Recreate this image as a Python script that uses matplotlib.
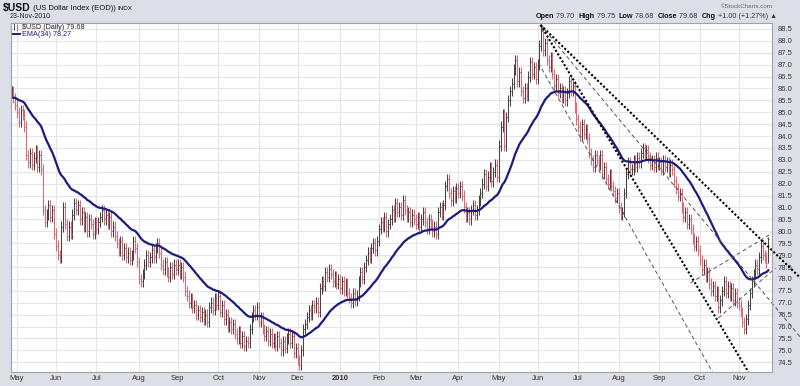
import numpy as np
import pandas as pd
import matplotlib
matplotlib.use("Agg")
import matplotlib.pyplot as plt

plt.rcParams["font.family"] = ["Liberation Sans", "DejaVu Sans"]

# daily closes, $USD, 28-Apr-2009 .. 23-Nov-2010 (one per weekday)
start_date = "2009-04-28"
end_date = "2010-11-23"

closes = [
    # Apr 2009
    85.9, 85.6, 85.3,
    # May
    85.0, 84.6, 85.1, 84.9, 84.4, 83.2, 82.9, 83.3, 82.8, 83.1, 83.4, 82.7,
    83.2, 82.6, 80.9, 80.4, 80.7, 81.1, 80.6, 80.9, 79.9,
    # Jun
    79.4, 79.0, 78.9, 80.2, 81.0, 80.3, 79.8, 80.2, 79.9, 80.7, 81.2, 80.9,
    81.1, 80.5, 80.8, 80.2, 80.6, 80.0, 80.5, 80.3, 79.9, 80.4,
    # Jul
    80.1, 80.4, 80.6, 80.9, 80.5, 80.7, 80.3, 80.6, 80.0, 80.2, 79.8, 79.5,
    79.2, 79.6, 79.0, 79.3, 78.9, 79.1, 78.8, 79.0, 79.6, 79.3, 78.7,
    # Aug
    78.0, 77.9, 78.2, 78.6, 79.0, 78.7, 78.9, 79.2, 78.9, 79.3, 79.5, 79.1,
    78.6, 78.4, 78.7, 78.3, 78.1, 78.5, 78.2, 78.6, 78.4,
    # Sep
    78.6, 78.2, 78.5, 78.1, 77.5, 77.3, 77.0, 77.2, 76.8, 76.9, 76.5, 76.7,
    76.4, 76.6, 76.3, 76.5, 76.2, 76.8, 77.0, 76.7, 77.2, 76.9,
    # Oct
    77.3, 76.6, 76.9, 76.3, 76.5, 76.0, 76.2, 75.9, 76.1, 75.7, 75.5, 75.8,
    75.3, 75.6, 75.2, 75.4, 75.3, 75.9, 76.4, 76.7, 76.5, 76.8,
    # Nov
    76.2, 76.4, 75.9, 75.6, 75.8, 75.4, 75.7, 75.3, 75.5, 75.2, 75.6, 75.3,
    75.0, 75.4, 75.1, 75.5, 75.7, 75.3, 75.6, 74.9, 75.1,
    # Dec
    74.6, 74.4, 75.0, 75.9, 76.1, 76.4, 76.7, 76.5, 76.9, 76.8, 77.0, 76.6,
    77.6, 77.9, 77.7, 78.3, 78.1, 78.4, 78.2, 77.9, 78.1, 77.8, 78.0,
    # Jan 2010
    77.6, 77.9, 77.5, 77.8, 77.4, 77.2, 77.0, 77.4, 77.1, 77.3, 77.9, 78.3,
    78.0, 78.5, 78.8, 79.1, 78.9, 79.3, 79.5, 79.2, 79.6,
    # Feb
    80.1, 80.4, 80.2, 80.6, 80.0, 80.3, 80.5, 80.9, 80.6, 81.2, 80.8, 81.0,
    80.7, 81.3, 80.9, 80.6, 80.8, 80.4, 80.7, 80.5,
    # Mar
    80.3, 80.6, 80.2, 80.5, 80.8, 80.4, 80.1, 80.5, 80.3, 80.0, 80.2, 79.9,
    80.8, 81.0, 80.7, 81.1, 81.9, 82.2, 81.6, 81.3, 81.7, 81.4, 81.8,
    # Apr
    81.6, 81.9, 81.5, 81.0, 80.6, 80.8, 80.5, 80.9, 81.1, 80.7, 80.9, 81.3,
    81.6, 82.0, 82.4, 81.9, 82.3, 82.7, 82.1, 82.5, 82.8, 82.3,
    # May
    83.6, 84.4, 84.9, 83.6, 84.8, 85.5, 85.9, 86.2, 86.8, 87.2, 86.3, 86.7,
    85.9, 85.6, 86.0, 85.7, 86.5, 87.1, 86.6, 86.9, 86.4,
    # Jun
    87.0, 87.8, 88.4, 87.6, 87.9, 87.2, 86.9, 87.3, 86.6, 86.1, 86.4, 85.8,
    86.0, 85.6, 85.9, 85.5, 85.8, 86.3, 85.9, 86.1, 85.2, 84.7,
    # Jul
    84.4, 84.0, 84.5, 84.1, 84.3, 83.9, 83.3, 83.0, 82.7, 83.2, 83.0, 82.8,
    83.2, 82.4, 82.7, 82.2, 82.0, 82.4, 81.9, 81.7, 81.4, 81.6,
    # Aug
    81.0, 80.7, 80.8, 81.6, 82.4, 82.9, 82.6, 82.6, 83.0, 82.7, 83.1, 82.9,
    83.3, 83.5, 83.2, 83.4, 83.1, 82.8, 83.0, 82.7, 83.1, 82.8,
    # Sep
    82.9, 82.6, 83.0, 82.7, 82.9, 82.5, 82.8, 82.6, 82.1, 81.8, 81.5, 81.6,
    81.0, 80.6, 80.8, 80.3, 80.5, 80.1, 79.7, 79.4, 79.6, 79.2,
    # Oct
    78.8, 78.4, 78.6, 78.1, 78.3, 77.8, 77.5, 77.7, 77.3, 77.5, 76.8, 77.1,
    77.5, 77.9, 77.4, 77.7, 77.3, 77.6, 77.1, 77.4, 77.0,
    # Nov
    76.9, 76.6, 76.2, 75.9, 76.3, 76.9, 77.4, 77.9, 78.2, 78.6, 78.4, 78.9,
    79.4, 79.0, 78.9, 78.68, 79.68,
]

last_open = 79.70
last_high = 79.75
last_low = 78.68
wick = 0.22

ema_span = 34
ema_seed = 85.6

# hand drawn trendlines: (bar number, price) start and end
trend_x0 = [286.6, 286.6, 286.6, 285.5, 367.8, 383.0]
trend_y0 = [88.67, 88.67, 88.67, 87.07, 77.83, 76.36]
trend_x1 = [427.4, 427.4, 399.2, 379.7, 412.2, 413.9]
trend_y1 = [78.04, 75.55, 74.09, 74.09, 79.93, 78.46]
trend_bold = [True, False, True, False, False, False]

price_ticks = [74.5, 75.0, 75.5, 76.0, 76.5, 77.0, 77.5, 78.0, 78.5, 79.0,
               79.5, 80.0, 80.5, 81.0, 81.5, 82.0, 82.5, 83.0, 83.5, 84.0,
               84.5, 85.0, 85.5, 86.0, 86.5, 87.0, 87.5, 88.0, 88.5]
month_labels = ["May", "Jun", "Jul", "Aug", "Sep", "Oct", "Nov", "Dec", "2010",
                "Feb", "Mar", "Apr", "May", "Jun", "Jul", "Aug", "Sep", "Oct",
                "Nov"]

title_parts = [("$USD", 7.5, "bold"), (" (US Dollar Index (EOD)) ", 5.5, "normal"),
               ("INDX", 4.5, "normal")]
header_parts = [("Open", True), (" 79.70  ", False), ("High", True),
                (" 79.75  ", False), ("Low", True), (" 78.68  ", False),
                ("Close", True), (" 79.68  ", False), ("Chg", True),
                (" +1.00 (+1.27%) ", False), ("\u25b2", False)]


def main():
    dates = pd.bdate_range(start_date, end_date)[:len(closes)]
    n = len(closes)
    idx = np.arange(n)
    c = np.array(closes)
    o = np.concatenate([[c[0]], c[:-1]])
    o[-1] = last_open
    hi = np.maximum(o, c) + wick
    lo = np.minimum(o, c) - wick
    hi[-1] = last_high
    lo[-1] = last_low
    up = np.concatenate([[True], c[1:] >= c[:-1]])

    ema = []
    k = 2.0 / (ema_span + 1)
    prev = ema_seed
    for v in c:
        prev = prev + k * (v - prev)
        ema.append(prev)

    W, H = 800, 386
    fig = plt.figure(figsize=(W / 100, H / 100), dpi=100)
    fig.patch.set_facecolor("#dcdfe6")
    ax = fig.add_axes([11 / W, 1 - 372 / H, (772 - 11) / W, (372 - 23) / H])
    ax.set_facecolor("white")
    ax.set_xlim(-0.3, 412)
    ax.set_ylim(74.09, 88.75)

    # month ticks
    month_pos = []
    for i in range(1, n):
        if dates[i].month != dates[i - 1].month:
            month_pos.append(i)
    ax.set_xticks(month_pos)
    ax.set_xticklabels(month_labels)
    for lab in ax.get_xticklabels():
        if lab.get_text() == "2010":
            lab.set_fontweight("bold")
    ax.set_yticks(price_ticks)
    ax.set_yticklabels(["%.1f" % v for v in price_ticks])
    ax.yaxis.tick_right()
    ax.tick_params(axis="both", length=0, labelsize=5.5, colors="#333333")
    ax.tick_params(axis="y", pad=4)
    ax.tick_params(axis="x", pad=2.5)
    ax.grid(True, color="#e3e5ea", linewidth=0.8)
    ax.set_axisbelow(True)
    for s in ax.spines.values():
        s.set_color("#9ea3ad")
        s.set_linewidth(0.8)

    up_col = "#444444"
    dn_col = "#e46470"
    cols = [up_col if u else dn_col for u in up]
    ax.vlines(idx, lo, hi, colors=cols, linewidth=0.75)
    ax.hlines(o, idx - 0.5, idx, colors=cols, linewidth=0.7)
    ax.hlines(c, idx, idx + 0.5, colors=cols, linewidth=0.7)

    ax.plot(idx, ema, color="#1c1c7c", linewidth=1.6)

    for x0, y0, x1, y1, bold in zip(trend_x0, trend_y0, trend_x1, trend_y1, trend_bold):
        if bold:
            ax.plot([x0, x1], [y0, y1], color="black", linewidth=1.5,
                    linestyle=(0, (1, 1)), clip_on=False)
        else:
            ax.plot([x0, x1], [y0, y1], color="#555555", linewidth=0.7,
                    linestyle=(0, (4, 3)), clip_on=False)

    # legend inside top-left
    ax.vlines([1.3], 88.45, 88.75, color=up_col, linewidth=0.7)
    ax.vlines([3.0], 88.42, 88.7, color=dn_col, linewidth=0.7)
    ax.text(5.5, 88.58, "$USD (Daily) 79.68", fontsize=5.2, color="#222222",
            va="center", ha="left")
    ax.plot([0.5, 4.8], [88.28, 88.28], color="#1c1c7c", linewidth=1.4)
    ax.text(5.5, 88.28, "EMA(34) 78.27", fontsize=5.2, color="#1c1c7c",
            va="center", ha="left")

    renderer = fig.canvas.get_renderer()

    # header
    x = 3
    for text, size, weight in title_parts:
        t = fig.text(x / W, 1 - 8 / H, text, fontsize=size, fontweight=weight,
                     color="#111111", va="center")
        x = t.get_window_extent(renderer).x1
    fig.text(10 / W, 1 - 16 / H, "23-Nov-2010", fontsize=5, color="#222222",
             va="center")
    fig.text(773 / W, 1 - 6 / H, "\u00a9StockCharts.com", fontsize=4.5,
             color="#666666", va="center", ha="right")

    x = 536
    for text, bold in header_parts:
        t = fig.text(x / W, 1 - 16 / H, text, fontsize=5.2,
                     fontweight="bold" if bold else "normal",
                     color="#111111" if bold else "#333344", va="center")
        x = t.get_window_extent(renderer).x1

    fig.savefig("out.png", dpi=100, facecolor=fig.get_facecolor())


if __name__ == "__main__":
    main()
